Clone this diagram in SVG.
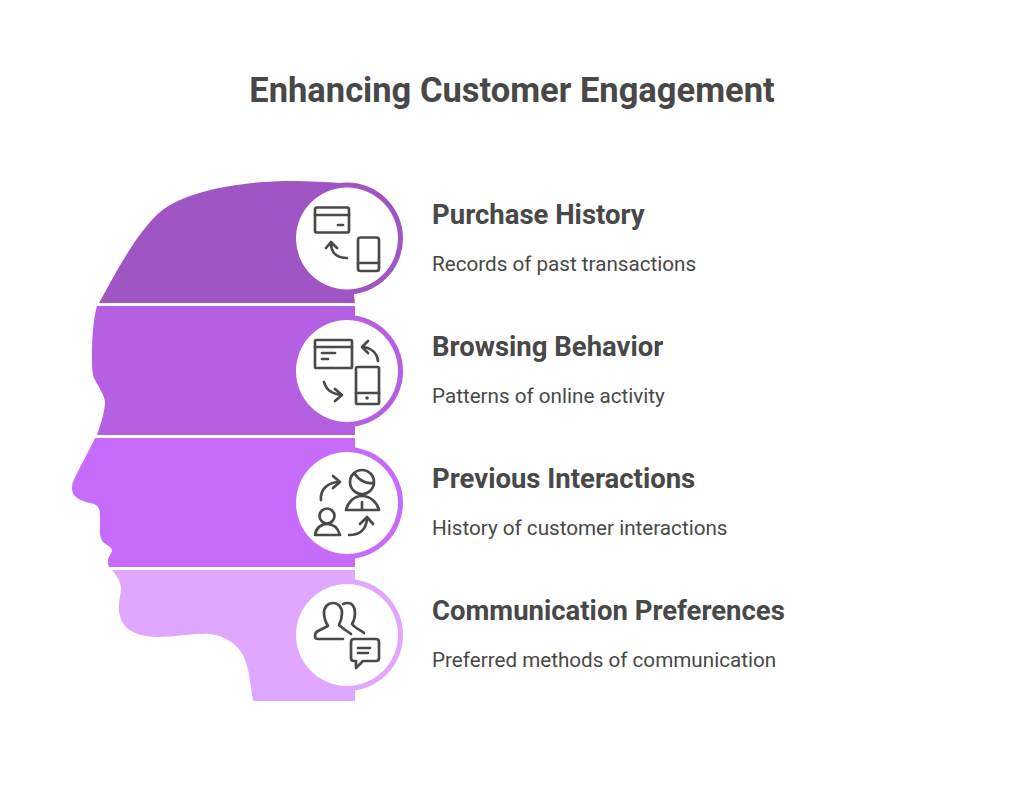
<svg xmlns="http://www.w3.org/2000/svg" width="1024" height="809" viewBox="0 0 1024 809">
<style>
text{font-family:Roboto,"Liberation Sans",sans-serif;fill:#484848}
.t{font-size:34.5px;font-weight:700}
.h{font-size:27.500px;font-weight:700}
.s{font-size:20.650px;font-weight:400}
.w{fill:#fff}
.i{fill:none;stroke:#4a4a4a;stroke-width:2.700;stroke-linecap:round;stroke-linejoin:round}
</style>
<rect width="1024" height="809" fill="#fff"/>
<text class="t" x="512" y="102" text-anchor="middle">Enhancing Customer Engagement</text>
<g id="node-purchase-history">
<path fill="#a055c4" d="M99 303C112 280 135 234 160 212C183 192 238 181 293 181C310 181 325 182 340 183L355 303Z"/>
<circle cx="347" cy="238.500" r="56" fill="#a055c4"/>
<circle class="w" cx="347" cy="238.500" r="51"/>
<g class="i">
<rect x="315" y="207.500" width="34" height="25" rx="2"/><path d="M315 215H349M338 225H343"/>
<rect x="358" y="237.500" width="21" height="33.500" rx="2.500"/><path d="M358 263H379"/>
<path d="M347 258C337 258 331 253 331 243M326 248L331 242L337 248"/>
</g>
<text class="h" x="432" y="224">Purchase History</text>
<text class="s" x="432" y="271">Records of past transactions</text>
</g>
<g id="node-browsing-behavior">
<path fill="#b55fe3" d="M97 306C93 320 92 340 92 355C92 365 92 372 94 378C98 386 104 394 105 402C105 412 100 426 97 435H355V306Z"/>
<circle cx="347" cy="371" r="56" fill="#b55fe3"/>
<circle class="w" cx="347" cy="371" r="51"/>
<g class="i">
<rect x="315" y="340" width="37" height="28" rx="1.500"/><path d="M315 347H352M322 353H335M322 359H328"/>
<rect x="356" y="367" width="23" height="37" rx="1.500"/><path d="M356 393H379"/>
<path d="M378 361C377 353 371 348 363 347M368 341L362 347L368 353"/>
<path d="M324 382C326 390 332 394 342 395M335 389L342 395L335 401"/>
</g>
<circle cx="367" cy="398" r="1.800" fill="#4a4a4a"/>
<text class="h" x="432" y="356">Browsing Behavior</text>
<text class="s" x="432" y="403">Patterns of online activity</text>
</g>
<g id="node-previous-interactions">
<path fill="#c76bfb" d="M95 438C88 453 78 470 73 482C71 488 72 494 76 497C81 501 90 503 94 504C99 506 100 510 100 516V532C100 538 102 542 107 545C110 547 112 548 112 551C111 554 108 557 108 561C108 564 108 566 109 567H355V438Z"/>
<circle cx="347" cy="503" r="56" fill="#c76bfb"/>
<circle class="w" cx="347" cy="503" r="51"/>
<g class="i">
<path d="M321 500C320 490 327 482 340 482M333 476L340 482L333 488"/>
<circle cx="362" cy="482" r="12"/><path d="M355 474C359 481 368 484 373 483"/>
<path d="M346 510H379C377 502 370 496 362 496C354 496 348 502 346 510ZM362 502V510"/>
<circle cx="327" cy="516" r="7.500"/>
<path d="M315 535H340C338 528 333 524 327 524C321 524 316 528 315 535Z"/>
<path d="M349 535C359 535 366 530 367 519M360 524L367 517L373 524"/>
</g>
<text class="h" x="432" y="488">Previous Interactions</text>
<text class="s" x="432" y="535">History of customer interactions</text>
</g>
<g id="node-communication-preferences">
<path fill="#dfa7ff" d="M112 570C117 576 120 581 121 587C121 595 118 603 119 611C120 618 122 624 128 629C135 634 145 637 158 637C175 637 195 633 210 634C225 636 238 644 244 657C249 668 251 688 253 701H355V570Z"/>
<circle cx="347" cy="635" r="56" fill="#dfa7ff"/>
<circle class="w" cx="347" cy="635" r="51"/>
<g class="i">
<path d="M343 639H318C316 639 315 638 315 636C315 634 316 632 318 631L328 626C325 621 324 617 324 613C324 607 328 603 333 603C338 603 342 607 342 613C342 617 341 621 339 625C342 628 347 631 351 634"/>
<path d="M343 604C345 603 346 603 348 603C352 603 355 607 355 613C355 617 354 621 352 624C355 628 360 630 364 633"/>
<path d="M354 639H376C378 639 379 640 379 642V658C379 660 378 661 376 661H363L356 668V661H354C352 661 351 660 351 658V642C351 640 352 639 354 639Z"/>
<path d="M358 648H370M358 653H368"/>
</g>
<text class="h" x="432" y="620">Communication Preferences</text>
<text class="s" x="432" y="667">Preferred methods of communication</text>
</g>
</svg>
